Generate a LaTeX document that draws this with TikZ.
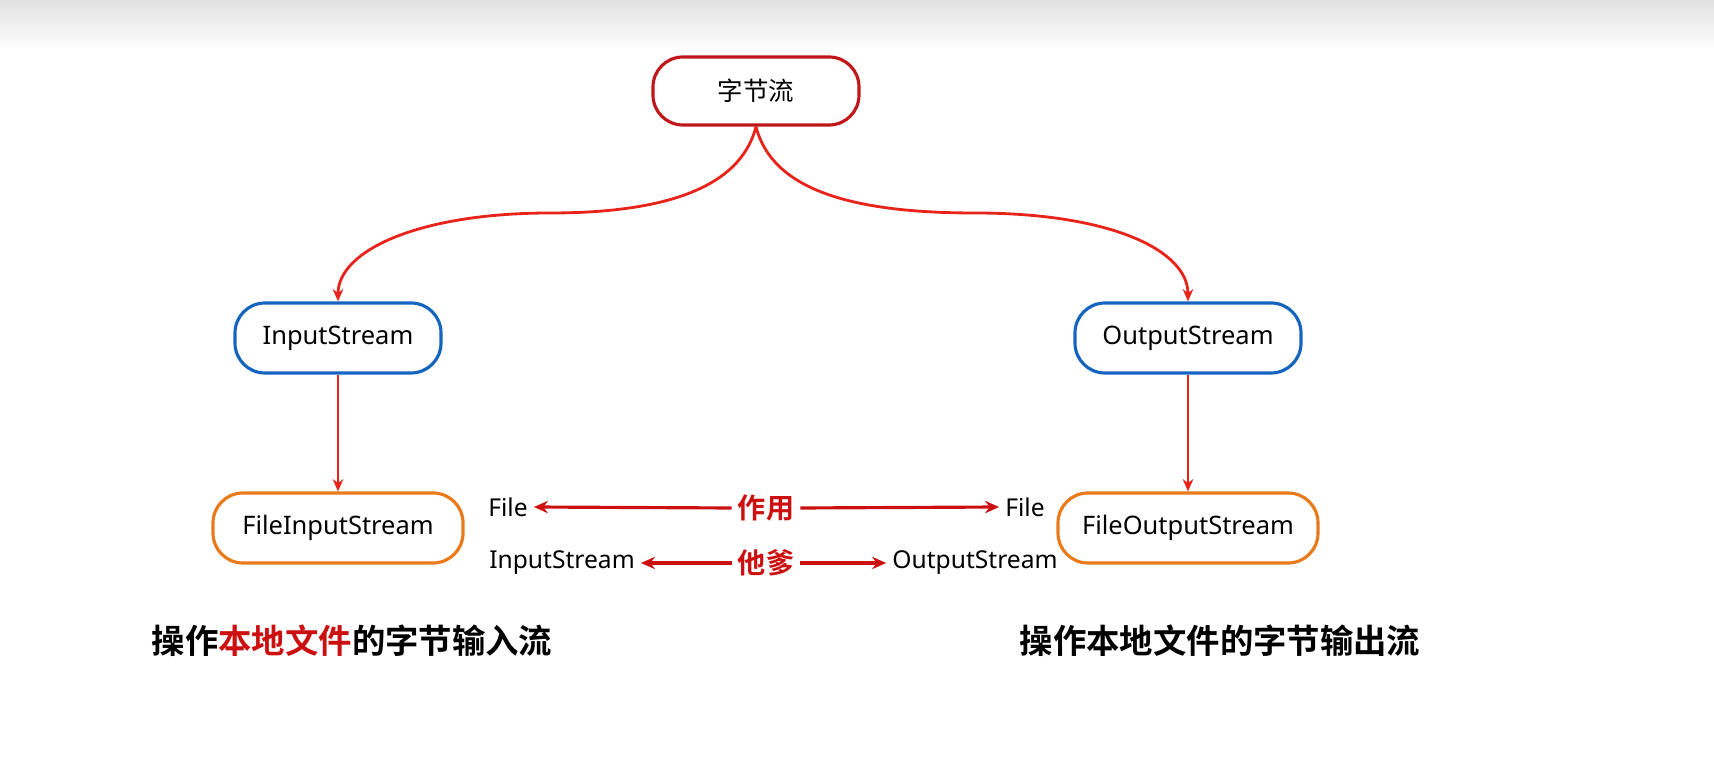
\documentclass[tikz,border=0pt]{standalone}
\usepackage{fontspec}
\setmainfont{Noto Sans}
\newfontfamily\cjk{Noto Sans CJK SC}[BoldFont={Noto Sans CJK SC Bold}]
\usetikzlibrary{arrows.meta}
\definecolor{dred}{HTML}{C0181A}
\definecolor{lred}{HTML}{E8231A}
\definecolor{mred}{HTML}{CC1010}
\definecolor{bl}{HTML}{1565C0}
\definecolor{org}{HTML}{E87A1A}
\begin{document}
\begin{tikzpicture}[x=0.02cm,y=-0.02cm,
  box/.style={draw,line width=1.8pt,rounded corners=17pt,minimum height=70*0.02cm,font=\fontsize{14.5pt}{16pt}\selectfont,fill=white},
  arr/.style={-{Stealth[length=7pt,width=6pt]},lred,line width=1.6pt},
  marr/.style={-{Stealth[length=8pt,width=7pt]},mred,line width=1.8pt},
  lab/.style={font=\fontsize{14pt}{15pt}\selectfont},
  mid/.style={font=\cjk\bfseries\fontsize{16pt}{17pt}\selectfont,text=mred},
  bot/.style={font=\cjk\bfseries\fontsize{19pt}{20pt}\selectfont}]
\useasboundingbox (0,0) rectangle (1714,759);
\shade[top color=black!12,bottom color=white] (0,0) rectangle (1714,50);
\node[box,draw=dred,minimum width=206*0.02cm,minimum height=68*0.02cm] (root) at (756,91) {\cjk 字节流};
\node[box,draw=bl,minimum width=206*0.02cm] (is) at (338,338) {InputStream};
\node[box,draw=bl,minimum width=226*0.02cm] (os) at (1188,338) {OutputStream};
\node[box,draw=org,minimum width=250*0.02cm] (fis) at (338,528) {FileInputStream};
\node[box,draw=org,minimum width=260*0.02cm] (fos) at (1188,528) {FileOutputStream};
\draw[arr] (root.south) .. controls (740,190) and (660,213) .. (550,213) .. controls (420,213) and (338,250) .. (is.north);
\draw[arr] (root.south) .. controls (772,190) and (852,213) .. (975,213) .. controls (1110,213) and (1188,250) .. (os.north);
\draw[arr] (is) -- (fis);
\draw[arr] (os) -- (fos);
\node[lab] (f1) at (508,507) {File};
\node[mid] (zy) at (766,508) {作用};
\node[lab] (f2) at (1025,507) {File};
\node[lab] (i2) at (562,563) {InputStream};
\node[mid] (td) at (766,563) {他爹};
\node[lab] (o2) at (975,563) {OutputStream};
\draw[marr] (zy.west) -- (f1.east);
\draw[marr] (zy.east) -- (f2.west);
\draw[marr] (td.west) -- (i2.east);
\draw[marr] (td.east) -- (o2.west);
\node[bot] (b1) at (352,641) {操作{\color{mred}本地文件}的字节输入流};
\node[bot] (b2) at (1220,641) {操作本地文件的字节输出流};
\end{tikzpicture}
\end{document}
